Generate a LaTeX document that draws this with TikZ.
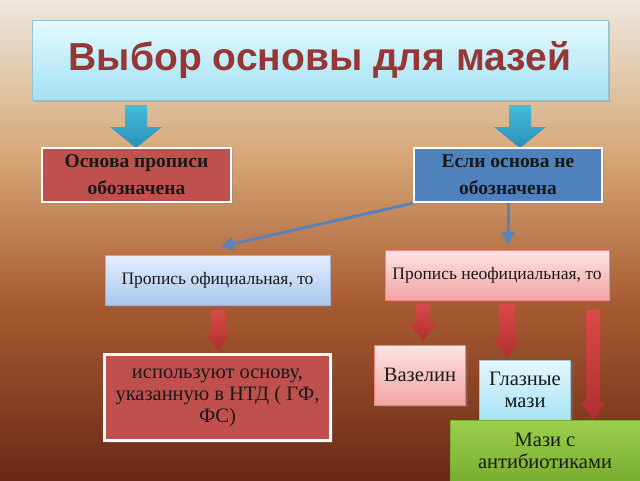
\documentclass[tikz,border=0pt]{standalone}
\usepackage{fontspec}
\setmainfont{Liberation Serif}
\newfontfamily\titlefont{Liberation Sans}
\usetikzlibrary{arrows.meta,calc,shadows}
\definecolor{bgA}{HTML}{ECE8DE}
\definecolor{bgB}{HTML}{D8A97A}
\definecolor{bgC}{HTML}{A95C32}
\definecolor{bgD}{HTML}{6A2916}
\definecolor{titleTop}{HTML}{E6FAFD}
\definecolor{titleBot}{HTML}{A2E0F3}
\definecolor{titleText}{HTML}{953735}
\definecolor{redBox}{HTML}{C0504D}
\definecolor{blueBox}{HTML}{4F81BD}
\definecolor{lbTop}{HTML}{E4EEFC}
\definecolor{lbBot}{HTML}{A9C7EF}
\definecolor{pkTop}{HTML}{FDE4E4}
\definecolor{pkBot}{HTML}{F2A3A3}
\definecolor{cyTop}{HTML}{E4F8FD}
\definecolor{cyBot}{HTML}{A6E2F4}
\definecolor{grTop}{HTML}{9DCF4E}
\definecolor{grBot}{HTML}{79AE32}
\definecolor{arrBlueTop}{HTML}{45BCDB}
\definecolor{arrBlueBot}{HTML}{2B8DB6}
\definecolor{arrRedTop}{HTML}{DA4A4A}
\definecolor{arrRedBot}{HTML}{B02E2E}
\definecolor{conn}{HTML}{5B82B8}
\newcommand\blkarrow[7]{%
  \shade[#1] (#2-#6,#3) -- (#2+#6,#3) -- (#2+#6,#4) -- (#2+#7,#4) -- (#2,#5)
    -- (#2-#7,#4) -- (#2-#6,#4) -- cycle;}
\tikzset{
  boxbase/.style={rectangle, inner sep=2pt, align=center, text=black!90,
    drop shadow={opacity=0.35, shadow xshift=2pt, shadow yshift=-2pt}},
  solidbox/.style={boxbase, draw=white, line width=2.5pt},
  titlebox/.style={boxbase, draw=titleBot!70!gray, line width=0.8pt,
    top color=titleTop, bottom color=titleBot},
  lightblue/.style={boxbase, draw=lbBot!70!gray, line width=0.8pt,
    top color=lbTop, bottom color=lbBot},
  lightpink/.style={boxbase, draw=pkBot!80!red, line width=0.8pt,
    top color=pkTop, bottom color=pkBot},
  lightcyan/.style={boxbase, draw=cyBot!70!gray, line width=0.8pt,
    top color=cyTop, bottom color=cyBot},
  greenbox/.style={boxbase, draw=grBot, line width=0.8pt,
    top color=grTop, bottom color=grBot},
  bluearrow/.style={top color=arrBlueTop, bottom color=arrBlueBot},
  redarrow/.style={top color=arrRedTop, bottom color=arrRedBot},
  connector/.style={draw=conn, line width=3pt,
    -{Triangle[length=13pt,width=14pt,line width=0pt]}},
  bigtext/.style={font=\fontsize{20.5}{22}\selectfont},
  boldtext/.style={font=\fontsize{19.5}{27}\selectfont\bfseries},
  smalltext/.style={font=\fontsize{17.5}{20}\selectfont},
}
\begin{document}
\begin{tikzpicture}[x=1pt,y=-1pt]
\useasboundingbox (0,0) rectangle (640,480);
\clip (0,0) rectangle (640,480);
% background
\shade[top color=bgA, bottom color=bgB] (0,0) rectangle (640,150.5);
\shade[top color=bgB, bottom color=bgC] (0,150) rectangle (640,300.5);
\shade[top color=bgC, bottom color=bgD] (0,300) rectangle (640,480);
% title
\node[titlebox, minimum width=576pt, minimum height=80pt] (title) at (320,60)
  {\titlefont\bfseries\fontsize{39}{44}\selectfont\color{titleText}Выбор основы для мазей};
% blue block arrows
\blkarrow{bluearrow}{136}{105}{127}{148}{11}{26}
\blkarrow{bluearrow}{520}{105}{127}{148}{11}{26}
% second row
\node[solidbox, fill=redBox, minimum width=189pt, minimum height=54pt, boldtext] (osn) at (136.5,175)
  {Основа прописи\\обозначена};
\node[solidbox, fill=blueBox, minimum width=188pt, minimum height=54pt, boldtext] (esli) at (508,175)
  {Если основа не\\обозначена};
% third row
\node[lightblue, minimum width=225pt, minimum height=50pt, smalltext] (ofic) at (217.5,280)
  {Пропись официальная, то};
\node[lightpink, minimum width=224pt, minimum height=50pt, smalltext] (neofic) at (497,275)
  {Пропись неофициальная, то};
% connectors
\draw[connector] (esli.south west) -- ($(ofic.north)+(3,-8)$);
\draw[connector] (esli.south) -- ($(esli.south |- neofic.north)+(0,-5)$);
% red block arrows
\blkarrow{redarrow}{218}{310}{333}{350}{7}{13}
\blkarrow{redarrow}{423}{304}{323}{340}{7}{15}
\blkarrow{redarrow}{507}{304}{338}{358}{8}{14}
\blkarrow{redarrow}{593}{310}{402}{420}{7}{13}
% bottom boxes
\node[solidbox, fill=redBox, minimum width=226pt, minimum height=86pt, bigtext] (ispol) at (217.5,397.5)
  {используют основу,\\указанную в НТД ( ГФ,\\ФС)};
\node[lightpink, minimum width=91pt, minimum height=60pt, bigtext] (vaz) at (420,375)
  {Вазелин};
\node[lightcyan, minimum width=91pt, minimum height=60pt, bigtext] (glaz) at (525,390)
  {Глазные\\мази};
\node[greenbox, minimum width=190pt, minimum height=61pt, bigtext] (mazi) at (545,450.5)
  {Мази с\\антибиотиками};
\end{tikzpicture}
\end{document}
